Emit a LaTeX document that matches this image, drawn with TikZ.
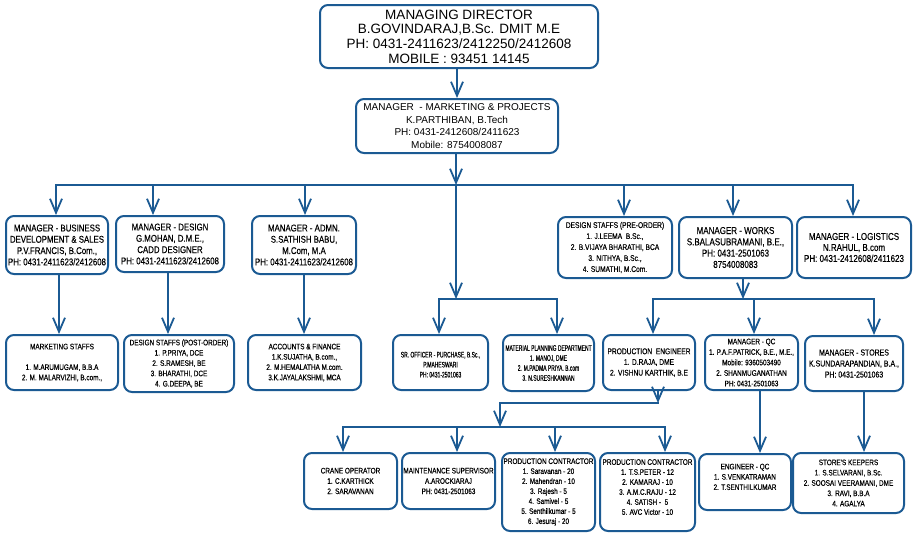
\documentclass[tikz,border=0pt]{standalone}
\usepackage{fontspec}
\setmainfont{Liberation Sans}
\newfontfamily\narrowA[FakeStretch=0.8,FakeBold=0.3]{Liberation Sans}
\newfontfamily\narrowB[FakeStretch=0.62,FakeBold=0.3]{Liberation Sans}
\usetikzlibrary{arrows.meta}
\definecolor{orgblue}{HTML}{1B5A93}

\begin{document}
\begin{tikzpicture}[x=1pt,y=-1pt,
	box/.style={draw=orgblue,line width=2pt,rounded corners=8pt,align=center,inner sep=1pt},
	topbox/.style={box,font=\fontsize{13.5}{14.7}\selectfont},
	mgrbox/.style={box,font=\fontsize{10}{12.5}\selectfont},
	unitbox/.style={box,font=\narrowA\fontsize{9.8}{11.3}\selectfont},
	staffbox/.style={box,font=\narrowA\fontsize{8}{10.3}\selectfont},
	thinbox/.style={box,font=\narrowB\fontsize{8}{10}\selectfont},
	link/.style={draw=orgblue,line width=1.8pt,line cap=rect},
	arr/.style={link,-{Straight Barb[length=14pt,width=12pt]}}]
	\useasboundingbox (0,0) rectangle (915,539);

	\node[topbox,minimum width=278,minimum height=63] (m_dir) at (459,36.5) {MANAGING DIRECTOR\\B.GOVINDARAJ,B.Sc. DMIT M.E\\PH: 0431-2411623/2412250/2412608\\MOBILE : 93451 14145};
	\node[mgrbox,minimum width=202,minimum height=54] (m_mkt) at (457,126) {MANAGER \ - MARKETING \& PROJECTS\\K.PARTHIBAN, B.Tech\\PH: 0431-2412608/2411623\\Mobile: 8754008087};

	\node[unitbox,minimum width=102,minimum height=58] (m_bd) at (57,245) {MANAGER - BUSINESS\\DEVELOPMENT \& SALES\\P.V.FRANCIS, B.Com.,\\PH: 0431-2411623/2412608};
	\node[unitbox,minimum width=108,minimum height=56] (m_dsg) at (170,244) {MANAGER - DESIGN\\G.MOHAN, D.M.E.,\\CADD DESIGNER\\PH: 0431-2411623/2412608};
	\node[unitbox,minimum width=104,minimum height=58] (m_adm) at (304,245) {MANAGER - ADMN.\\S.SATHISH BABU,\\M.Com, M.A\\PH: 0431-2411623/2412608};
	\node[staffbox,font=\narrowA\fontsize{8.3}{11}\selectfont,minimum width=114,minimum height=61] (s_pre) at (615,247.5) {DESIGN STAFFS (PRE-ORDER)\\1. J.LEEMA \ B.Sc.,\\2. B.VIJAYA BHARATHI, BCA\\3. NITHYA, B.Sc.,\\4. SUMATHI, M.Com.};
	\node[unitbox,font=\narrowA\fontsize{10}{11.3}\selectfont,minimum width=113,minimum height=61] (m_wrk) at (735.5,247.5) {MANAGER - WORKS\\S.BALASUBRAMANI, B.E.,\\PH: 0431-2501063\\8754008083};
	\node[unitbox,font=\narrowA\fontsize{10}{11}\selectfont,minimum width=114,minimum height=61] (m_log) at (854,247.5) {MANAGER - LOGISTICS\\N.RAHUL, B.com\\PH: 0431-2412608/2411623};

	\node[staffbox,minimum width=112,minimum height=55] (s_mkt) at (62,362.5) {MARKETING STAFFS\\~\\1. M.ARUMUGAM, B.B.A\\2. M. MALARVIZHI, B.com.,};
	\node[staffbox,minimum width=110,minimum height=57] (s_pst) at (179,363.5) {DESIGN STAFFS (POST-ORDER)\\1. P.PRIYA, DCE\\2. S.RAMESH, BE\\3. BHARATHI, DCE\\4. G.DEEPA, BE};
	\node[staffbox,minimum width=113,minimum height=55] (s_acc) at (304.5,362.5) {ACCOUNTS \& FINANCE\\1.K.SUJATHA, B.com.,\\2. M.HEMALATHA M.com.\\3.K.JAYALAKSHMI, MCA};
	\node[thinbox,minimum width=95,minimum height=55] (s_pur) at (440.5,362.5) {~\\SR. OFFICER - PURCHASE, B.Sc.,\\P.MAHESWARI\\PH: 0431-2501063};
	\node[thinbox,minimum width=91,minimum height=56] (s_mpd) at (548.5,363) {MATERIAL PLANNING DEPARTMENT\\1. MANOJ, DME\\2. M.PADMA PRIYA. B.com\\3. N.SURESHKANNAN};
	\node[staffbox,font=\narrowA\fontsize{8.3}{10.7}\selectfont,minimum width=92,minimum height=55] (m_pe) at (649,362.5) {PRODUCTION \ ENGINEER\\1. D.RAJA, DME\\2. VISHNU KARTHIK, B.E};
	\node[staffbox,font=\narrowA\fontsize{8}{10.5}\selectfont,minimum width=93,minimum height=55] (m_qc) at (751.5,362.5) {MANAGER - QC\\1. P.A.F.PATRICK, B.E., M.E.,\\Mobile: 9360503490\\2. SHANMUGANATHAN\\PH: 0431-2501063};
	\node[staffbox,font=\narrowA\fontsize{8.7}{11}\selectfont,minimum width=98,minimum height=55] (m_sto) at (854,363.5) {MANAGER - STORES\\K.SUNDARAPANDIAN, B.A.,\\PH: 0431-2501063};

	\node[staffbox,minimum width=93,minimum height=56] (s_crn) at (350.5,481) {CRANE OPERATOR\\1. C.KARTHICK\\2. SARAVANAN};
	\node[staffbox,minimum width=93,minimum height=56] (s_mnt) at (448.5,481) {MAINTENANCE SUPERVISOR\\A.AROCKIARAJ\\PH: 0431-2501063};
	\node[staffbox,font=\narrowA\fontsize{8}{10}\selectfont,minimum width=93,minimum height=78] (s_pc1) at (548.5,492) {PRODUCTION CONTRACTOR\\1. Saravanan - 20\\2. Mahendran - 10\\3. Rajesh - 5\\4. Samivel - 5\\5. Senthilkumar - 5\\6. Jesuraj - 20};
	\node[staffbox,font=\narrowA\fontsize{8}{10}\selectfont,minimum width=95,minimum height=78] (s_pc2) at (647.5,492) {PRODUCTION CONTRACTOR\\1. T.S.PETER - 12\\2. KAMARAJ - 10\\3. A.M.C.RAJU - 12\\4. SATISH - \ 5\\5. AVC Victor - 10\\~};
	\node[staffbox,minimum width=92,minimum height=56] (s_eqc) at (745,482) {ENGINEER - QC\\1. S.VENKATRAMAN\\2. T.SENTHILKUMAR\\~};
	\node[staffbox,minimum width=111,minimum height=60] (s_sk) at (848.5,483) {STORE'S KEEPERS\\1. S.SELVARANI, B.Sc.\\2. SOOSAI VEERAMANI, DME\\3. RAVI, B.B.A\\4. AGALYA};

	\coordinate (bus_top) at (456,185);
	\coordinate (bus_l) at (56,185);
	\coordinate (bus_r) at (853,185);
	\coordinate (bus_mid) at (456,299);
	\coordinate (bus_wrk) at (743,299);
	\coordinate (bus_pe) at (658,403);
	\coordinate (bus_jog) at (500,403);
	\coordinate (bus_bot) at (500,427);

	\draw[arr] (m_mkt.north |- m_dir.south) -- (m_mkt.north);
	\draw[arr] (bus_top |- m_mkt.south) -- (bus_top);
	\draw[link] (bus_l) -- (bus_r);
	\foreach \x/\n in {56/m_bd, 153/m_dsg, 305/m_adm, 624/s_pre, 733/m_wrk, 853/m_log}
		\draw[arr] (\x,185) -- (\x,185 |- \n.north);
	\foreach \x/\a/\b in {59/m_bd/s_mkt, 168/m_dsg/s_pst, 304/m_adm/s_acc, 760/m_qc/s_eqc, 864/m_sto/s_sk}
		\draw[arr] (\x,0 |- \a.south) -- (\x,0 |- \b.north);

	\draw[arr] (bus_top) -- (bus_mid);
	\draw[link] (439,299) -- (557,299);
	\foreach \x/\n in {439/s_pur, 557/s_mpd}
		\draw[arr] (\x,299) -- (\x,299 |- \n.north);

	\draw[arr] (bus_wrk |- m_wrk.south) -- (bus_wrk);
	\draw[link] (653,299) -- (874,299);
	\foreach \x/\n in {653/m_pe, 754/m_qc, 874/m_sto}
		\draw[arr] (\x,299) -- (\x,299 |- \n.north);

	\draw[arr] (bus_pe |- m_pe.south) -- (bus_pe);
	\draw[link] (bus_jog) -- (bus_pe);
	\draw[arr] (bus_jog) -- (bus_bot);
	\draw[link] (343,427) -- (665,427);
	\foreach \x/\n in {343/s_crn, 457/s_mnt, 555/s_pc1, 665/s_pc2}
		\draw[arr] (\x,427) -- (\x,427 |- \n.north);
\end{tikzpicture}
\end{document}
